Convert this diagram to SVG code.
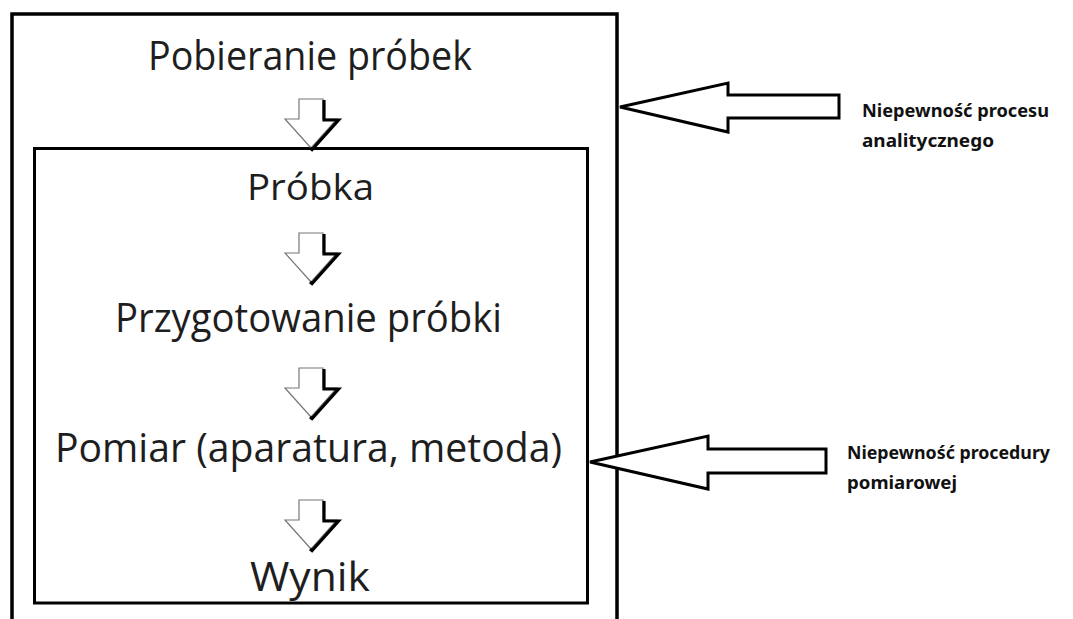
<svg xmlns="http://www.w3.org/2000/svg" width="1073" height="619" viewBox="0 0 1073 619">
  <defs>
    <style>
      .frame { fill: none; stroke: #000; }
      .step { font-family: "Open Sans", "Noto Sans", sans-serif; font-size: 40px; fill: #1e1e1e; text-anchor: start; }
      .note { font-family: "Noto Sans", "Open Sans", sans-serif; font-size: 18.5px; font-weight: bold; fill: #111; }
      .callout { fill: #fff; stroke: #000; stroke-width: 3; stroke-linejoin: miter; }
      .down-body { fill: #fff; stroke: #777; stroke-width: 1.2; }
      .down-shade { fill: none; stroke: #000; stroke-width: 3.2; stroke-linejoin: miter; }
    </style>
    <!-- hollow down arrow with a dark drop edge on its right side -->
    <g id="down">
      <path class="down-body" d="M-12,0 H12 V20 H26 L0,49 L-26,20 H-12 Z"/>
      <path class="down-shade" d="M13,1 V21 H27.5 L1,50.5 L-1,49"/>
    </g>
  </defs>

  <rect width="1073" height="619" fill="#fff"/>

  <!-- outer frame: whole analytical process -->
  <g id="analytical-process">
    <rect class="frame" x="12" y="14" width="605" height="620" stroke-width="3.5"/>
    <text class="step" x="148" y="70" textLength="324" lengthAdjust="spacingAndGlyphs">Pobieranie próbek</text>
  </g>

  <!-- inner frame: measurement procedure -->
  <g id="measurement-procedure">
    <rect class="frame" x="34.5" y="148.5" width="553" height="454.5" stroke-width="3"/>
  </g>

  <g id="sample">
    <text class="step" x="247" y="200" textLength="127" lengthAdjust="spacingAndGlyphs" style="font-size:36px">Próbka</text>
  </g>
  <g id="preparation">
    <text class="step" x="115" y="332" textLength="387" lengthAdjust="spacingAndGlyphs">Przygotowanie próbki</text>
  </g>
  <g id="measurement">
    <text class="step" x="55" y="462" textLength="507" lengthAdjust="spacingAndGlyphs">Pomiar (aparatura, metoda)</text>
  </g>
  <g id="result">
    <text class="step" x="250" y="591" textLength="120" lengthAdjust="spacingAndGlyphs">Wynik</text>
  </g>

  <!-- connectors -->
  <g id="connectors">
    <use href="#down" x="311" y="99"/>
    <use href="#down" x="311" y="233"/>
    <use href="#down" x="311" y="368"/>
    <use href="#down" x="311" y="500"/>

    <path class="callout" d="M620,107 L728,83 V95 H839 V118 H728 V132 Z"/>
    <path class="callout" d="M590,462 L708,436 V449 H826 V473 H708 V489 Z"/>
  </g>

  <g id="label-process">
    <text class="note" x="862" y="117" textLength="187" lengthAdjust="spacingAndGlyphs">Niepewność procesu</text>
    <text class="note" x="862" y="147" textLength="132" lengthAdjust="spacingAndGlyphs">analitycznego</text>
  </g>
  <g id="label-procedure">
    <text class="note" x="847" y="459" textLength="203" lengthAdjust="spacingAndGlyphs">Niepewność procedury</text>
    <text class="note" x="847" y="489" textLength="110" lengthAdjust="spacingAndGlyphs">pomiarowej</text>
  </g>
</svg>
